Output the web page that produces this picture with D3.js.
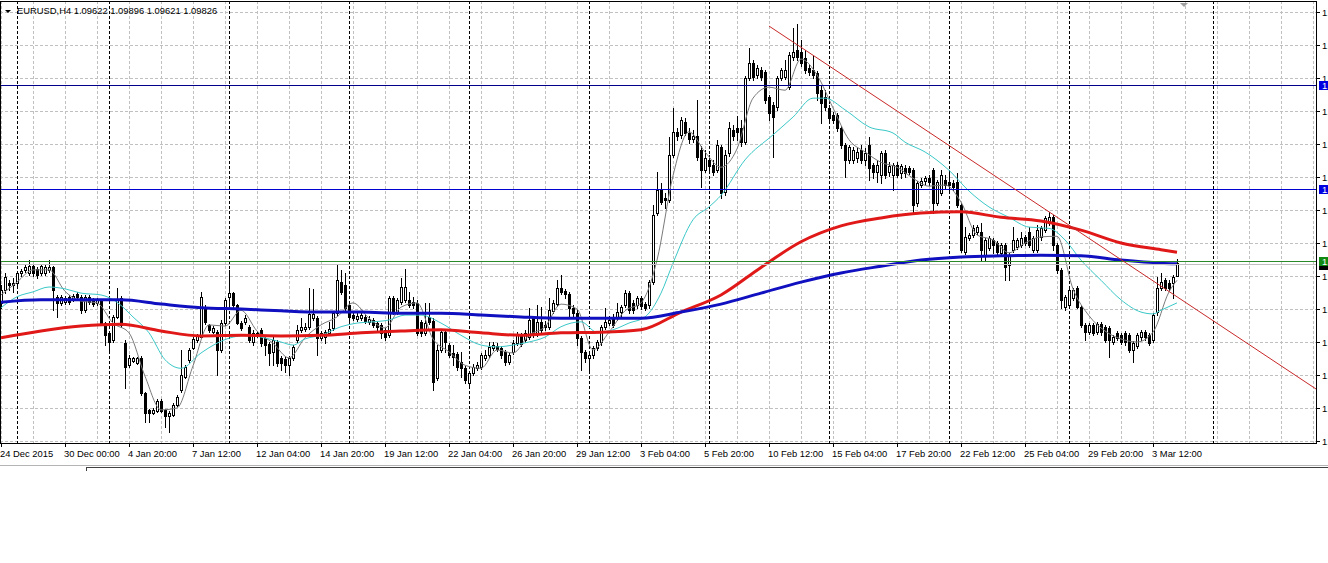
<!DOCTYPE html>
<html>
<head>
<meta charset="utf-8">
<script src="https://cdn.jsdelivr.net/npm/d3@7"></script>
<style>
body { margin: 0; background: #fff; }
svg { display: block; font-family: "Liberation Sans", Arial, sans-serif; }
</style>
</head>
<body>
<div id="chart"></div>
<script>
// EURUSD H4 bars, 24 Dec 2015 .. 4 Mar 2016
var opens = [
1.0918,1.0939,1.0951,1.0947,1.0951,1.0967,1.0972,1.0967,1.0978,1.0973,
1.0967,1.0967,1.0972,1.0977,1.0928,1.0918,1.0919,1.0928,1.0924,1.0933,
1.0928,1.0906,1.0928,1.0923,1.0918,1.0923,1.0885,1.0869,1.0857,1.0895,
1.0926,1.0852,1.0816,1.0823,1.0820,1.0828,1.0771,1.0743,1.0738,1.0741,
1.0757,1.0743,1.0733,1.0735,1.0751,1.0776,1.0797,1.0825,1.0844,1.0857,
1.0862,1.0910,1.0882,1.0870,1.0870,1.0841,1.0885,1.0928,1.0934,1.0915,
1.0885,1.0887,1.0879,1.0854,1.0869,1.0874,1.0861,1.0851,1.0838,1.0854,
1.0828,1.0826,1.0816,1.0828,1.0857,1.0874,1.0875,1.0879,1.0893,1.0893,
1.0861,1.0862,1.0869,1.0877,1.0901,1.0952,1.0947,1.0915,1.0898,1.0892,
1.0893,1.0895,1.0887,1.0890,1.0885,1.0882,1.0874,1.0865,1.0926,1.0903,
1.0919,1.0923,1.0923,1.0919,1.0918,1.0887,1.0869,1.0895,1.0888,1.0795,
1.0841,1.0870,1.0849,1.0836,1.0834,1.0821,1.0811,1.0787,1.0803,1.0811,
1.0813,1.0828,1.0833,1.0844,1.0847,1.0844,1.0838,1.0821,1.0838,1.0852,
1.0865,1.0857,1.0862,1.0893,1.0867,1.0887,1.0882,1.0879,1.0905,1.0916,
1.0942,1.0937,1.0933,1.0910,1.0901,1.0861,1.0838,1.0828,1.0833,1.0844,
1.0854,1.0879,1.0885,1.0895,1.0893,1.0903,1.0915,1.0934,1.0918,1.0915,
1.0926,1.0916,1.0915,1.0952,1.1065,1.1103,1.1090,1.1086,1.1160,1.1198,
1.1193,1.1214,1.1196,1.1186,1.1191,1.1168,1.1135,1.1152,1.1144,1.1135,
1.1173,1.1100,1.1163,1.1201,1.1204,1.1204,1.1181,1.1286,1.1310,1.1291,
1.1299,1.1296,1.1255,1.1242,1.1238,1.1286,1.1288,1.1271,1.1320,1.1332,
1.1328,1.1319,1.1302,1.1299,1.1294,1.1266,1.1255,1.1237,1.1225,1.1225,
1.1204,1.1176,1.1152,1.1152,1.1155,1.1168,1.1152,1.1176,1.1144,1.1132,
1.1127,1.1163,1.1132,1.1127,1.1144,1.1130,1.1139,1.1139,1.1135,1.1081,
1.1111,1.1117,1.1122,1.1135,1.1081,1.1098,1.1119,1.1116,1.1114,1.1116,
1.1078,1.1001,1.1024,1.1029,1.1034,1.1034,1.0996,1.1008,1.1021,1.1016,
1.1000,1.1013,1.0980,1.1005,1.1009,1.1013,1.1026,1.1034,1.1005,1.1005,
1.1026,1.1037,1.1049,1.1058,1.1013,1.0972,1.0911,1.0915,1.0926,1.0942,
1.0911,1.0882,1.0870,1.0882,1.0870,1.0883,1.0879,1.0877,1.0854,1.0869,
1.0865,1.0869,1.0865,1.0841,1.0847,1.0862,1.0870,1.0865,1.0857,1.0903,
1.0942,1.0955,1.0951,1.0951,1.09622];
var highs = [
1.0947,1.0967,1.0955,1.0959,1.0970,1.0973,1.0980,1.0988,1.0982,1.0977,
1.0982,1.0980,1.0988,1.0978,1.0931,1.0931,1.0929,1.0931,1.0933,1.0936,
1.0931,1.0931,1.0931,1.0926,1.0926,1.0924,1.0887,1.0870,1.0898,1.0942,
1.0929,1.0857,1.0833,1.0829,1.0829,1.0831,1.0772,1.0744,1.0746,1.0761,
1.0761,1.0744,1.0741,1.0754,1.0767,1.0841,1.0816,1.0844,1.0862,1.0867,
1.0936,1.0915,1.0883,1.0880,1.0874,1.0890,1.0926,1.0972,1.0936,1.0916,
1.0888,1.0898,1.0882,1.0874,1.0872,1.0877,1.0864,1.0854,1.0862,1.0857,
1.0831,1.0829,1.0831,1.0849,1.0882,1.0893,1.0885,1.0942,1.0941,1.0897,
1.0872,1.0874,1.0887,1.0905,1.0980,1.0972,1.0967,1.0918,1.0901,1.0901,
1.0903,1.0898,1.0897,1.0893,1.0888,1.0885,1.0877,1.0929,1.0929,1.0926,
1.0959,1.0973,1.0936,1.0928,1.0923,1.0890,1.0918,1.0918,1.0893,1.0849,
1.0874,1.0874,1.0852,1.0849,1.0838,1.0838,1.0815,1.0807,1.0818,1.0821,
1.0836,1.0841,1.0854,1.0854,1.0852,1.0847,1.0841,1.0836,1.0857,1.0870,
1.0869,1.0874,1.0910,1.0897,1.0915,1.0911,1.0888,1.0926,1.0923,1.0955,
1.0964,1.0941,1.0936,1.0915,1.0906,1.0864,1.0841,1.0838,1.0847,1.0857,
1.0882,1.0910,1.0897,1.0900,1.0918,1.0915,1.0939,1.0937,1.0923,1.0929,
1.0929,1.0919,1.0955,1.1078,1.1132,1.1114,1.1098,1.1189,1.1237,1.1204,
1.1222,1.1220,1.1204,1.1201,1.1250,1.1175,1.1168,1.1160,1.1152,1.1185,
1.1176,1.1168,1.1214,1.1209,1.1224,1.1217,1.1289,1.1335,1.1315,1.1307,
1.1304,1.1299,1.1258,1.1247,1.1289,1.1302,1.1315,1.1328,1.1368,1.1374,
1.1348,1.1332,1.1309,1.1322,1.1297,1.1274,1.1266,1.1242,1.1230,1.1229,
1.1207,1.1180,1.1176,1.1173,1.1171,1.1176,1.1171,1.1189,1.1147,1.1152,
1.1166,1.1168,1.1148,1.1147,1.1148,1.1145,1.1144,1.1142,1.1139,1.1117,
1.1122,1.1126,1.1127,1.1139,1.1119,1.1135,1.1127,1.1135,1.1119,1.1130,
1.1081,1.1042,1.1032,1.1045,1.1045,1.1049,1.1024,1.1027,1.1024,1.1019,
1.1016,1.1016,1.1000,1.1042,1.1024,1.1034,1.1029,1.1042,1.1027,1.1045,
1.1044,1.1060,1.1067,1.1062,1.1016,1.0975,1.0931,1.0942,1.0942,1.0946,
1.0915,1.0885,1.0885,1.0885,1.0887,1.0887,1.0882,1.0880,1.0865,1.0872,
1.0869,1.0872,1.0869,1.0856,1.0869,1.0874,1.0874,1.0869,1.0901,1.0960,
1.0967,1.0959,1.0955,1.0964,1.09896];
var lows = [
1.0910,1.0934,1.0939,1.0936,1.0947,1.0962,1.0969,1.0964,1.0962,1.0959,
1.0964,1.0964,1.0969,1.0906,1.0895,1.0915,1.0916,1.0916,1.0921,1.0923,
1.0901,1.0903,1.0916,1.0913,1.0915,1.0882,1.0849,1.0841,1.0854,1.0893,
1.0879,1.0779,1.0813,1.0821,1.0818,1.0767,1.0723,1.0723,1.0736,1.0739,
1.0739,1.0715,1.0707,1.0733,1.0749,1.0772,1.0795,1.0821,1.0843,1.0854,
1.0861,1.0883,1.0870,1.0869,1.0800,1.0838,1.0882,1.0915,1.0911,1.0883,
1.0874,1.0883,1.0854,1.0849,1.0862,1.0847,1.0833,1.0816,1.0816,1.0815,
1.0808,1.0805,1.0800,1.0825,1.0854,1.0870,1.0872,1.0875,1.0890,1.0833,
1.0857,1.0852,1.0865,1.0874,1.0898,1.0933,1.0903,1.0887,1.0890,1.0888,
1.0890,1.0885,1.0883,1.0879,1.0874,1.0861,1.0857,1.0862,1.0900,1.0900,
1.0916,1.0919,1.0911,1.0910,1.0865,1.0864,1.0865,1.0883,1.0776,1.0792,
1.0838,1.0838,1.0829,1.0816,1.0808,1.0797,1.0787,1.0784,1.0800,1.0808,
1.0810,1.0825,1.0829,1.0841,1.0839,1.0828,1.0816,1.0818,1.0834,1.0849,
1.0847,1.0854,1.0859,1.0862,1.0864,1.0869,1.0874,1.0875,1.0901,1.0913,
1.0933,1.0926,1.0895,1.0897,1.0849,1.0808,1.0821,1.0808,1.0828,1.0841,
1.0849,1.0875,1.0882,1.0879,1.0890,1.0897,1.0911,1.0901,1.0901,1.0910,
1.0908,1.0906,1.0910,1.0949,1.1062,1.1080,1.1073,1.1083,1.1157,1.1185,
1.1188,1.1193,1.1180,1.1181,1.1152,1.1108,1.1132,1.1135,1.1127,1.1132,
1.1090,1.1094,1.1158,1.1185,1.1185,1.1175,1.1178,1.1283,1.1283,1.1286,
1.1283,1.1245,1.1217,1.1157,1.1234,1.1283,1.1284,1.1268,1.1315,1.1315,
1.1306,1.1294,1.1291,1.1286,1.1250,1.1212,1.1234,1.1212,1.1212,1.1199,
1.1171,1.1124,1.1147,1.1147,1.1148,1.1147,1.1144,1.1119,1.1122,1.1116,
1.1114,1.1122,1.1126,1.1103,1.1124,1.1122,1.1124,1.1129,1.1067,1.1076,
1.1108,1.1112,1.1111,1.1065,1.1078,1.1094,1.1106,1.1103,1.1103,1.1075,
1.1001,1.0998,1.1021,1.1026,1.1031,1.0988,1.0988,1.1005,1.1000,1.0996,
1.0995,1.0955,1.0955,1.1001,1.1006,1.1009,1.1013,1.1009,1.1001,1.1001,
1.1021,1.1034,1.1045,1.1005,1.0967,1.0910,1.0906,1.0910,1.0923,1.0910,
1.0879,1.0857,1.0867,1.0865,1.0867,1.0865,1.0854,1.0829,1.0851,1.0857,
1.0851,1.0849,1.0838,1.0821,1.0844,1.0857,1.0857,1.0849,1.0854,1.0898,
1.0939,1.0939,1.0939,1.0926,1.09621];
var closes = [
1.0939,1.0960,1.0947,1.0951,1.0967,1.0970,1.0977,1.0978,1.0967,1.0964,
1.0978,1.0977,1.0977,1.0939,1.0918,1.0928,1.0926,1.0919,1.0929,1.0928,
1.0906,1.0928,1.0919,1.0916,1.0923,1.0885,1.0865,1.0854,1.0895,1.0923,
1.0882,1.0813,1.0828,1.0828,1.0828,1.0771,1.0738,1.0738,1.0743,1.0757,
1.0741,1.0733,1.0738,1.0751,1.0764,1.0800,1.0813,1.0841,1.0859,1.0864,
1.0928,1.0887,1.0874,1.0877,1.0841,1.0885,1.0923,1.0934,1.0915,1.0885,
1.0877,1.0893,1.0857,1.0869,1.0865,1.0852,1.0849,1.0836,1.0857,1.0820,
1.0820,1.0816,1.0828,1.0846,1.0874,1.0879,1.0879,1.0900,1.0900,1.0861,
1.0869,1.0870,1.0875,1.0901,1.0955,1.0936,1.0910,1.0895,1.0893,1.0897,
1.0898,1.0888,1.0892,1.0882,1.0879,1.0869,1.0862,1.0926,1.0903,1.0923,
1.0944,1.0944,1.0915,1.0915,1.0869,1.0869,1.0885,1.0887,1.0789,1.0841,
1.0870,1.0854,1.0833,1.0829,1.0813,1.0811,1.0792,1.0803,1.0813,1.0816,
1.0833,1.0833,1.0846,1.0849,1.0843,1.0833,1.0821,1.0833,1.0852,1.0867,
1.0851,1.0869,1.0890,1.0865,1.0887,1.0874,1.0879,1.0906,1.0918,1.0942,
1.0936,1.0933,1.0910,1.0901,1.0861,1.0838,1.0828,1.0833,1.0844,1.0854,
1.0879,1.0887,1.0890,1.0882,1.0903,1.0911,1.0934,1.0906,1.0906,1.0926,
1.0913,1.0910,1.0952,1.1062,1.1103,1.1083,1.1086,1.1160,1.1198,1.1191,
1.1217,1.1196,1.1186,1.1191,1.1157,1.1135,1.1155,1.1142,1.1132,1.1176,
1.1098,1.1160,1.1204,1.1191,1.1198,1.1181,1.1286,1.1310,1.1288,1.1302,
1.1288,1.1250,1.1229,1.1222,1.1286,1.1299,1.1299,1.1324,1.1328,1.1320,
1.1310,1.1299,1.1296,1.1291,1.1261,1.1245,1.1238,1.1220,1.1217,1.1204,
1.1176,1.1152,1.1173,1.1168,1.1165,1.1152,1.1163,1.1139,1.1132,1.1144,
1.1163,1.1127,1.1142,1.1144,1.1127,1.1142,1.1130,1.1132,1.1078,1.1114,
1.1117,1.1122,1.1116,1.1081,1.1116,1.1127,1.1111,1.1111,1.1108,1.1078,
1.1005,1.1026,1.1029,1.1040,1.1042,1.1005,1.1021,1.1024,1.1013,1.1001,
1.1013,1.0977,1.0996,1.1021,1.1021,1.1024,1.1016,1.1013,1.1024,1.1037,
1.1040,1.1057,1.1058,1.1013,1.0972,1.0923,1.0928,1.0939,1.0939,1.0911,
1.0882,1.0870,1.0882,1.0869,1.0883,1.0870,1.0857,1.0857,1.0862,1.0861,
1.0854,1.0854,1.0841,1.0852,1.0865,1.0870,1.0862,1.0852,1.0898,1.0942,
1.0952,1.0942,1.0942,1.0960,1.09826];

// moving averages, sampled at the listed bar numbers
var slowBars = [0,10,20,30,40,50,60,70,80,90,100,110,120,130,140,150,160,170,180,190,200,210,220,230,240,250,260,270,280,290,294];
var redMA = [1.0861,1.0872,1.0880,1.0883,1.0872,1.0864,1.0865,1.0864,1.0865,1.0869,1.0872,1.0874,1.0869,1.0865,1.0869,1.0870,1.0874,1.0903,1.0931,1.0976,1.1018,1.1044,1.1057,1.1065,1.1067,1.1058,1.1052,1.1037,1.1016,1.1005,1.1001];
var blueMA = [1.0919,1.0923,1.0923,1.0923,1.0916,1.0910,1.0908,1.0905,1.0903,1.0903,1.0901,1.0901,1.0898,1.0895,1.0893,1.0893,1.0893,1.0903,1.0916,1.0934,1.0952,1.0967,1.0978,1.0988,1.0993,1.0995,1.0996,1.0995,1.0988,1.0983,1.0982];
var cyanBars = [0,4,8,12,16,20,25,29,33,37,41,45,50,54,58,62,65,70,73,76,80,85,89,93,97,101,105,110,115,120,124,128,132,136,140,145,149,153,157,161,165,168,173,177,180,186,193,198,203,206,211,217,223,226,231,237,242,247,252,257,262,266,270,275,280,285,288,290,294];
var cyanMA = [1.0910,1.0928,1.0936,1.0944,1.0941,1.0934,1.0931,1.0919,1.0895,1.0869,1.0825,1.0811,1.0836,1.0852,1.0862,1.0865,1.0862,1.0854,1.0849,1.0859,1.0865,1.0879,1.0885,1.0887,1.0890,1.0898,1.0898,1.0885,1.0865,1.0849,1.0846,1.0849,1.0854,1.0862,1.0879,1.0887,1.0870,1.0874,1.0885,1.0895,1.0934,1.0983,1.1054,1.1075,1.1094,1.1152,1.1193,1.1222,1.1253,1.1253,1.1234,1.1206,1.1196,1.1181,1.1165,1.1135,1.1101,1.1075,1.1058,1.1042,1.1040,1.1021,1.0988,1.0955,1.0923,1.0903,1.0900,1.0906,1.0918];
var grayBars = [0,4,8,12,16,20,24,28,32,36,40,44,48,52,56,60,64,68,72,76,80,84,88,92,96,100,104,108,112,116,120,124,128,132,136,140,144,148,152,156,160,164,168,172,176,180,184,188,192,196,200,204,208,212,216,220,224,228,232,236,240,244,248,252,256,260,264,268,272,276,280,284,288,292,294];
var grayMA = [1.0931,1.0952,1.0972,1.0972,1.0937,1.0921,1.0918,1.0885,1.0869,1.0798,1.0743,1.0746,1.0815,1.0882,1.0880,1.0906,1.0872,1.0852,1.0828,1.0861,1.0882,1.0895,1.0918,1.0893,1.0877,1.0911,1.0918,1.0859,1.0838,1.0816,1.0811,1.0841,1.0836,1.0865,1.0879,1.0916,1.0908,1.0841,1.0870,1.0905,1.0918,1.0988,1.1126,1.1198,1.1165,1.1140,1.1170,1.1253,1.1271,1.1266,1.1317,1.1291,1.1237,1.1185,1.1165,1.1148,1.1140,1.1122,1.1109,1.1111,1.1083,1.1029,1.1021,1.1000,1.1016,1.1026,1.1027,1.0941,1.0897,1.0872,1.0859,1.0854,1.0870,1.0936,1.0955];

// drawn objects
var hLines = [1.1274, 1.1104];
var hLineColors = ["#00008c", "#0000d2"];
var greenLevel = 1.0986;
var trendBars = [192, 262];
var trendPrices = [1.1371, 1.1067];

// axes
var priceTicks = [1.1394,1.1340,1.1286,1.1232,1.1178,1.1124,1.1070,1.1016,1.0962,1.0908,1.0854,1.0800,1.0746,1.0692];
var timeLabels = ["24 Dec 2015","30 Dec 00:00","4 Jan 20:00","7 Jan 12:00","12 Jan 04:00","14 Jan 20:00","19 Jan 12:00","22 Jan 04:00","26 Jan 20:00","29 Jan 12:00","3 Feb 04:00","5 Feb 20:00","10 Feb 12:00","15 Feb 04:00","17 Feb 20:00","22 Feb 12:00","25 Feb 04:00","29 Feb 20:00","3 Mar 12:00"];
var weekBars = [4,27,57,87,117,147,177,207,237,267,303];
var title = "EURUSD,H4  1.09622 1.09896 1.09621 1.09826";

var W = 1328, H = 563;
var plotL = 0, plotR = 1316, plotT = 1, plotB = 443;
var fs = "9.4px";

var svg = d3.select("#chart").append("svg")
    .attr("width", W)
    .attr("height", H)

svg.append("rect").attr("width", W).attr("height", H).attr("fill", "#fff")

var x = d3.scaleLinear().domain([0, 328.75]).range([1, 1316])
var y = d3.scaleLinear().domain([1.0692, 1.1394]).range([441, 12])

svg.append("defs").append("clipPath").attr("id", "plotclip")
  .append("rect").attr("x", plotL).attr("y", plotT).attr("width", plotR - plotL).attr("height", plotB - plotT)

var plot = svg.append("g").attr("clip-path", "url(#plotclip)")

// grid
var gridBars = d3.range(0, 329, 8)
plot.selectAll(".vgrid").data(gridBars).enter().append("line")
    .attr("x1", d => Math.round(x(d)) + 0.5).attr("x2", d => Math.round(x(d)) + 0.5)
    .attr("y1", plotT).attr("y2", plotB)
    .attr("stroke", "#c0c0c0").attr("stroke-dasharray", "3,2")
plot.selectAll(".hgrid").data(priceTicks).enter().append("line")
    .attr("x1", plotL).attr("x2", plotR)
    .attr("y1", d => Math.round(y(d)) + 0.5).attr("y2", d => Math.round(y(d)) + 0.5)
    .attr("stroke", "#c0c0c0").attr("stroke-dasharray", "3,2")

// week separators
plot.selectAll(".sep").data(weekBars).enter().append("line")
    .attr("x1", d => Math.round(x(d)) + 0.5).attr("x2", d => Math.round(x(d)) + 0.5)
    .attr("y1", plotT).attr("y2", plotB)
    .attr("stroke", "#000").attr("stroke-dasharray", "3,2")

// candles
var bars = d3.range(opens.length)
var candles = plot.selectAll(".c").data(bars).enter().append("g")
candles.append("line")
    .attr("x1", i => Math.round(x(i)) + 0.5).attr("x2", i => Math.round(x(i)) + 0.5)
    .attr("y1", i => Math.round(y(highs[i]))).attr("y2", i => Math.round(y(lows[i])) + 1)
    .attr("stroke", "#000")
candles.append("rect")
    .attr("x", i => Math.round(x(i)) - 0.5)
    .attr("y", i => Math.round(y(Math.max(opens[i], closes[i]))) + 0.5)
    .attr("width", 2)
    .attr("height", i => Math.round(y(Math.min(opens[i], closes[i]))) - Math.round(y(Math.max(opens[i], closes[i]))))
    .attr("fill", i => closes[i] >= opens[i] ? "#fff" : "#000")
    .attr("stroke", "#000")

// moving averages
function maLine(xs, vs, color, w) {
  var line = d3.line().x((d, k) => x(xs[k])).y(d => y(d)).curve(d3.curveMonotoneX)
  plot.append("path").datum(vs)
      .attr("d", line)
      .attr("fill", "none").attr("stroke", color).attr("stroke-width", w)
}
maLine(grayBars, grayMA, "#7a7a7a", 1)
maLine(cyanBars, cyanMA, "#3cc8c8", 1)
maLine(slowBars, redMA, "#e01818", 3)
maLine(slowBars, blueMA, "#1010c0", 3)

// horizontal lines
plot.selectAll(".hl").data(hLines).enter().append("line")
    .attr("x1", plotL).attr("x2", plotR)
    .attr("y1", d => Math.round(y(d)) + 0.5).attr("y2", d => Math.round(y(d)) + 0.5)
    .attr("stroke", (d, k) => hLineColors[k])
plot.append("line")
    .attr("x1", plotL).attr("x2", plotR)
    .attr("y1", Math.round(y(greenLevel)) + 0.5).attr("y2", Math.round(y(greenLevel)) + 0.5)
    .attr("stroke", "#2a8a2a")
var last = closes[closes.length - 1]
plot.append("line")
    .attr("x1", plotL).attr("x2", plotR)
    .attr("y1", Math.round(y(last)) + 1.5).attr("y2", Math.round(y(last)) + 1.5)
    .attr("stroke", "#c0c0c0")

// trend line (ray to the right edge)
var slope = (trendPrices[1] - trendPrices[0]) / (trendBars[1] - trendBars[0])
var endBar = 328.75
plot.append("line")
    .attr("x1", x(trendBars[0])).attr("y1", y(trendPrices[0]))
    .attr("x2", x(endBar)).attr("y2", y(trendPrices[0] + slope * (endBar - trendBars[0])))
    .attr("stroke", "#c82828").attr("stroke-width", 1)

// frame
svg.append("rect")
    .attr("x", plotL + 0.5).attr("y", plotT + 0.5)
    .attr("width", plotR - plotL).attr("height", plotB - plotT)
    .attr("fill", "none").attr("stroke", "#000")

// price axis
svg.selectAll(".ptick").data(priceTicks).enter().append("line")
    .attr("x1", plotR).attr("x2", plotR + 4)
    .attr("y1", d => Math.round(y(d)) + 0.5).attr("y2", d => Math.round(y(d)) + 0.5)
    .attr("stroke", "#000")
svg.selectAll(".plab").data(priceTicks).enter().append("text")
    .attr("x", plotR + 6).attr("y", d => Math.round(y(d)) + 4)
    .style("font-size", fs)
    .text(d => d.toFixed(4))

// level boxes on the price axis
function levelBox(v, fill, color) {
  var yy = Math.round(y(v))
  svg.append("rect").attr("x", plotR + 3).attr("y", yy - 4).attr("width", 20).attr("height", 9).attr("fill", fill)
  svg.append("text").attr("x", plotR + 6).attr("y", yy + 4).style("font-size", fs).attr("fill", color).text(v.toFixed(4))
}
levelBox(hLines[0], "#0000e0", "#fff")
levelBox(hLines[1], "#0000e0", "#fff")
levelBox(greenLevel, "#128a12", "#fff")
svg.append("rect").attr("x", plotR + 3).attr("y", Math.round(y(last)) + 3).attr("width", 20).attr("height", 4).attr("fill", "#000")

// time axis
var labelBars = d3.range(timeLabels.length).map(k => k * 16)
svg.selectAll(".ttick").data(labelBars).enter().append("line")
    .attr("x1", d => Math.round(x(d)) + 0.5).attr("x2", d => Math.round(x(d)) + 0.5)
    .attr("y1", plotB).attr("y2", plotB + 4)
    .attr("stroke", "#000")
svg.selectAll(".tlab").data(timeLabels).enter().append("text")
    .attr("x", (d, k) => Math.round(x(labelBars[k])) - 1)
    .attr("y", 457)
    .style("font-size", fs)
    .text(d => d)

// title
svg.append("path").attr("d", "M5,10 L11,10 L8,13 Z").attr("fill", "#000")
svg.append("text").attr("x", 17).attr("y", 14).style("font-size", fs).text(title)

// shift marker
svg.append("path").attr("d", "M1180,3 L1188,3 L1184,7 Z").attr("fill", "#a0a0a0")

// tab strip under the chart
svg.append("line").attr("x1", 0).attr("x2", W).attr("y1", 465.5).attr("y2", 465.5).attr("stroke", "#b4b4b4")
svg.append("line").attr("x1", 86).attr("x2", W).attr("y1", 467.5).attr("y2", 467.5).attr("stroke", "#404040")
svg.append("line").attr("x1", 86.5).attr("x2", 86.5).attr("y1", 467).attr("y2", 471).attr("stroke", "#404040")
</script>
</body>
</html>
